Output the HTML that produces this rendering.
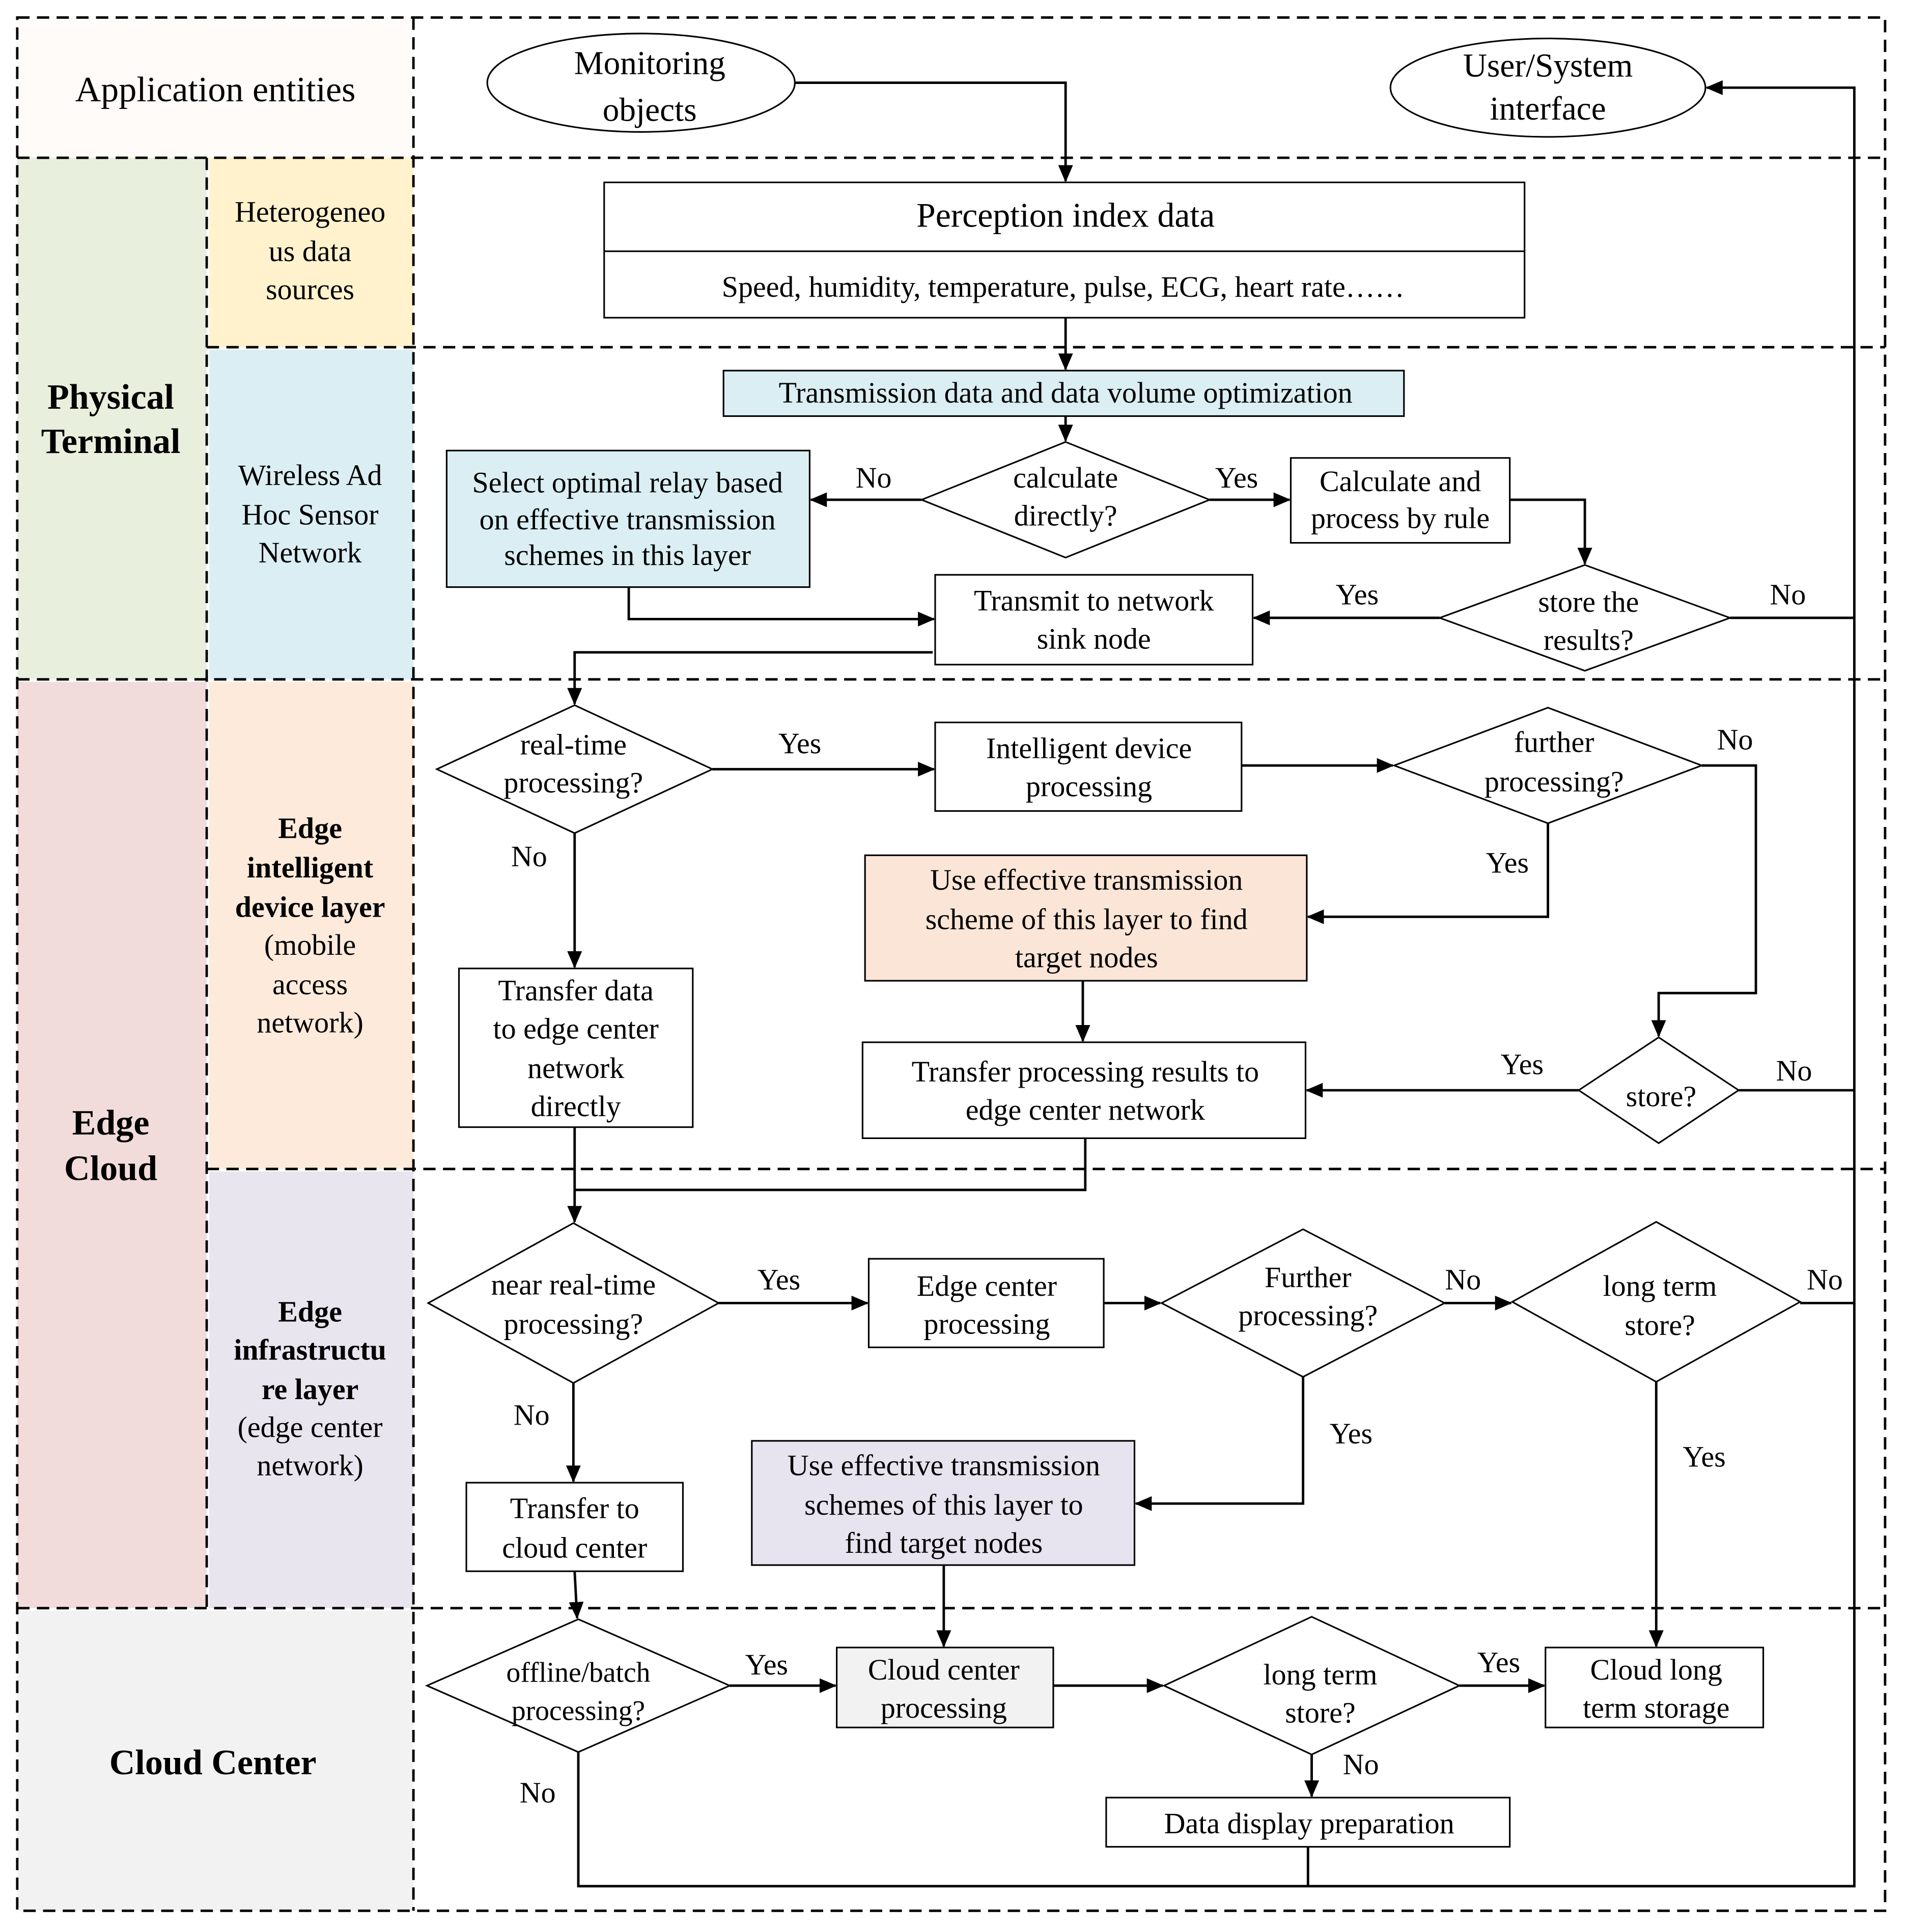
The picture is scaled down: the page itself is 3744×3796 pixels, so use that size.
<!DOCTYPE html>
<html><head><meta charset="utf-8"><style>
html,body{margin:0;padding:0;background:#fff}
svg{display:block}
text{font-family:"Liberation Serif",serif;fill:#000}
</style></head><body>
<svg width="3744" height="3796" viewBox="0 0 1549 1570" xmlns="http://www.w3.org/2000/svg">
<defs>
<marker id="a" markerUnits="userSpaceOnUse" markerWidth="14" markerHeight="12" refX="13" refY="6" orient="auto"><path d="M0,0 L14,6 L0,12 z" fill="#000"/></marker>
</defs>
<rect width="1549" height="1570" fill="#fff"/>
<rect x="14" y="14" width="322" height="114" fill="#fefbf8"/>
<rect x="14" y="128" width="154" height="424" fill="#e9efdd"/>
<rect x="170" y="128" width="166" height="154" fill="#fff2cd"/>
<rect x="170" y="284" width="166" height="268" fill="#dbeef4"/>
<rect x="14" y="554" width="154" height="753" fill="#f1dcdb"/>
<rect x="170" y="554" width="166" height="396" fill="#fdeadb"/>
<rect x="170" y="952" width="166" height="355" fill="#e8e5ef"/>
<rect x="14" y="1309" width="322" height="244" fill="#f2f2f2"/>
<g stroke="#000" stroke-width="2" stroke-dasharray="10,6" fill="none">
<rect x="14" y="14" width="1518" height="1539"/>
<line x1="336" y1="14" x2="336" y2="1553"/>
<line x1="168" y1="128" x2="168" y2="1307"/>
<line x1="14" y1="128" x2="1532" y2="128"/>
<line x1="168" y1="282" x2="1532" y2="282"/>
<line x1="14" y1="552" x2="1532" y2="552"/>
<line x1="168" y1="950" x2="1532" y2="950"/>
<line x1="14" y1="1307" x2="1532" y2="1307"/>
</g>
<g font-size="29" text-anchor="middle">
<text x="175" y="82">Application entities</text>
</g>
<g font-size="24" text-anchor="middle">
<text x="252" y="180">Heterogeneo</text><text x="252" y="212">us data</text><text x="252" y="243">sources</text>
<text x="252" y="394">Wireless Ad</text><text x="252" y="426">Hoc Sensor</text><text x="252" y="457">Network</text>
<text x="252" y="681" font-weight="bold">Edge</text><text x="252" y="713" font-weight="bold">intelligent</text><text x="252" y="745" font-weight="bold">device layer</text>
<text x="252" y="776">(mobile</text><text x="252" y="808">access</text><text x="252" y="839">network)</text>
<text x="252" y="1074" font-weight="bold">Edge</text><text x="252" y="1105" font-weight="bold">infrastructu</text><text x="252" y="1137" font-weight="bold">re layer</text>
<text x="252" y="1168">(edge center</text><text x="252" y="1199">network)</text>
</g>
<g font-size="29" text-anchor="middle" font-weight="bold">
<text x="90" y="332">Physical</text><text x="90" y="368">Terminal</text>
<text x="90" y="922">Edge</text><text x="90" y="959">Cloud</text>
<text x="173" y="1442">Cloud Center</text>
</g>
<g stroke="#000" stroke-width="1.3" fill="#fff">
<ellipse cx="521" cy="67" rx="125" ry="40"/>
<ellipse cx="1258" cy="71" rx="128" ry="40"/>
<rect x="491" y="148" width="748" height="110"/>
<line x1="491" y1="204" x2="1239" y2="204"/>
<rect x="588" y="301" width="553" height="37" fill="#daeef3"/>
<polygon points="866,359 983,406 866,453 749,406"/>
<rect x="363" y="366" width="295" height="111" fill="#daeef3"/>
<rect x="1049" y="372" width="178" height="69"/>
<polygon points="1288,459 1406,502 1288,545 1170,502"/>
<rect x="760" y="467" width="258" height="73"/>
<polygon points="467,573 579,625 467,677 355,625"/>
<rect x="760" y="587" width="249" height="72"/>
<polygon points="1258,575 1383,622 1258,669 1133,622"/>
<rect x="703" y="695" width="359" height="102" fill="#fbe5d6"/>
<rect x="373" y="787" width="190" height="129"/>
<rect x="701" y="847" width="360" height="78"/>
<polygon points="1348,843 1413,886 1348,929 1283,886"/>
<polygon points="466,994 584,1059 466,1124 348,1059"/>
<rect x="706" y="1023" width="191" height="72"/>
<polygon points="1059,999 1174,1059 1059,1119 944,1059"/>
<polygon points="1346,993 1463,1058 1346,1123 1229,1058"/>
<rect x="379" y="1205" width="176" height="72"/>
<rect x="611" y="1171" width="311" height="101" fill="#e7e3ef"/>
<polygon points="470,1316 593,1370 470,1424 347,1370"/>
<rect x="680" y="1339" width="176" height="65" fill="#f2f2f2"/>
<polygon points="1066,1314 1186,1370 1066,1426 946,1370"/>
<rect x="1256" y="1339" width="177" height="65"/>
<rect x="899" y="1461" width="328" height="40"/>
</g>
<g stroke="#000" stroke-width="2" fill="none">
<polyline points="646,67 866,67 866,147" marker-end="url(#a)"/>
<line x1="866" y1="258" x2="866" y2="300" marker-end="url(#a)"/>
<line x1="866" y1="338" x2="866" y2="358" marker-end="url(#a)"/>
<line x1="749" y1="406" x2="659" y2="406" marker-end="url(#a)"/>
<line x1="983" y1="406" x2="1048" y2="406" marker-end="url(#a)"/>
<polyline points="1227,406 1288,406 1288,458" marker-end="url(#a)"/>
<line x1="1170" y1="502" x2="1019" y2="502" marker-end="url(#a)"/>
<line x1="1406" y1="502" x2="1507" y2="502"/>
<polyline points="511,477 511,503 759,503" marker-end="url(#a)"/>
<polyline points="758,530 467,530 467,572" marker-end="url(#a)"/>
<polyline points="470,1424 470,1533 1507,1533 1507,71 1387,71" marker-end="url(#a)"/>
<line x1="1063" y1="1501" x2="1063" y2="1533"/>
<line x1="579" y1="625" x2="759" y2="625" marker-end="url(#a)"/>
<line x1="467" y1="677" x2="467" y2="786" marker-end="url(#a)"/>
<line x1="1009" y1="622" x2="1132" y2="622" marker-end="url(#a)"/>
<polyline points="1383,622 1427,622 1427,807 1348,807 1348,842" marker-end="url(#a)"/>
<polyline points="1258,669 1258,745 1063,745" marker-end="url(#a)"/>
<line x1="880" y1="797" x2="880" y2="846" marker-end="url(#a)"/>
<line x1="1283" y1="886" x2="1062" y2="886" marker-end="url(#a)"/>
<line x1="1413" y1="886" x2="1507" y2="886"/>
<line x1="467" y1="916" x2="467" y2="993" marker-end="url(#a)"/>
<polyline points="882,925 882,967 467,967"/>
<line x1="584" y1="1059" x2="705" y2="1059" marker-end="url(#a)"/>
<line x1="466" y1="1124" x2="466" y2="1204" marker-end="url(#a)"/>
<line x1="897" y1="1059" x2="943" y2="1059" marker-end="url(#a)"/>
<line x1="1174" y1="1059" x2="1228" y2="1059" marker-end="url(#a)"/>
<line x1="1463" y1="1059" x2="1507" y2="1059"/>
<polyline points="1059,1119 1059,1222 923,1222" marker-end="url(#a)"/>
<line x1="1346" y1="1123" x2="1346" y2="1338" marker-end="url(#a)"/>
<line x1="467" y1="1277" x2="469" y2="1315" marker-end="url(#a)"/>
<line x1="767" y1="1272" x2="767" y2="1338" marker-end="url(#a)"/>
<line x1="593" y1="1370" x2="679" y2="1370" marker-end="url(#a)"/>
<line x1="856" y1="1370" x2="945" y2="1370" marker-end="url(#a)"/>
<line x1="1186" y1="1370" x2="1255" y2="1370" marker-end="url(#a)"/>
<line x1="1066" y1="1426" x2="1066" y2="1460" marker-end="url(#a)"/>
</g>
<g font-size="24" text-anchor="middle">
<text x="528" y="60" font-size="27">Monitoring</text><text x="528" y="98" font-size="27">objects</text>
<text x="1258" y="62" font-size="27">User/System</text><text x="1258" y="97" font-size="27">interface</text>
<text x="866" y="184" font-size="28">Perception index data</text>
<text x="864" y="241">Speed, humidity, temperature, pulse, ECG, heart rate……</text>
<text x="866" y="327">Transmission data and data volume optimization</text>
<text x="866" y="396">calculate</text><text x="866" y="427">directly?</text>
<text x="510" y="400">Select optimal relay based</text><text x="510" y="430">on effective transmission</text><text x="510" y="459">schemes in this layer</text>
<text x="1138" y="399">Calculate and</text><text x="1138" y="429">process by rule</text>
<text x="1291" y="497">store the</text><text x="1291" y="528">results?</text>
<text x="889" y="496">Transmit to network</text><text x="889" y="527">sink node</text>
<text x="466" y="613">real-time</text><text x="466" y="644">processing?</text>
<text x="885" y="616">Intelligent device</text><text x="885" y="647">processing</text>
<text x="1263" y="611">further</text><text x="1263" y="643">processing?</text>
<text x="883" y="723">Use effective transmission</text><text x="883" y="755">scheme of this layer to find</text><text x="883" y="786">target nodes</text>
<text x="468" y="813">Transfer data</text><text x="468" y="844">to edge center</text><text x="468" y="876">network</text><text x="468" y="907">directly</text>
<text x="882" y="879">Transfer processing results to</text><text x="882" y="910">edge center network</text>
<text x="1350" y="899">store?</text>
<text x="466" y="1052">near real-time</text><text x="466" y="1084">processing?</text>
<text x="802" y="1053">Edge center</text><text x="802" y="1084">processing</text>
<text x="1063" y="1046">Further</text><text x="1063" y="1077">processing?</text>
<text x="1349" y="1053">long term</text><text x="1349" y="1085">store?</text>
<text x="467" y="1234">Transfer to</text><text x="467" y="1266">cloud center</text>
<text x="767" y="1199">Use effective transmission</text><text x="767" y="1231">schemes of this layer to</text><text x="767" y="1262">find target nodes</text>
<text x="470" y="1367" font-size="23">offline/batch</text><text x="470" y="1398" font-size="23">processing?</text>
<text x="767" y="1365">Cloud center</text><text x="767" y="1396">processing</text>
<text x="1073" y="1369">long term</text><text x="1073" y="1400">store?</text>
<text x="1346" y="1365">Cloud long</text><text x="1346" y="1396">term storage</text>
<text x="1064" y="1490">Data display preparation</text>
</g>
<g font-size="24" text-anchor="middle">
<text x="710" y="396">No</text><text x="1005" y="396">Yes</text>
<text x="1103" y="491">Yes</text><text x="1453" y="491">No</text>
<text x="650" y="612">Yes</text><text x="430" y="704">No</text>
<text x="1410" y="609">No</text><text x="1225" y="709">Yes</text>
<text x="1237" y="873">Yes</text><text x="1458" y="878">No</text>
<text x="633" y="1048">Yes</text><text x="432" y="1158">No</text>
<text x="1189" y="1048">No</text><text x="1483" y="1048">No</text>
<text x="1098" y="1173">Yes</text><text x="1385" y="1192">Yes</text>
<text x="623" y="1361">Yes</text><text x="1218" y="1359">Yes</text>
<text x="1106" y="1442">No</text><text x="437" y="1465">No</text>
</g>
</svg>
</body></html>
